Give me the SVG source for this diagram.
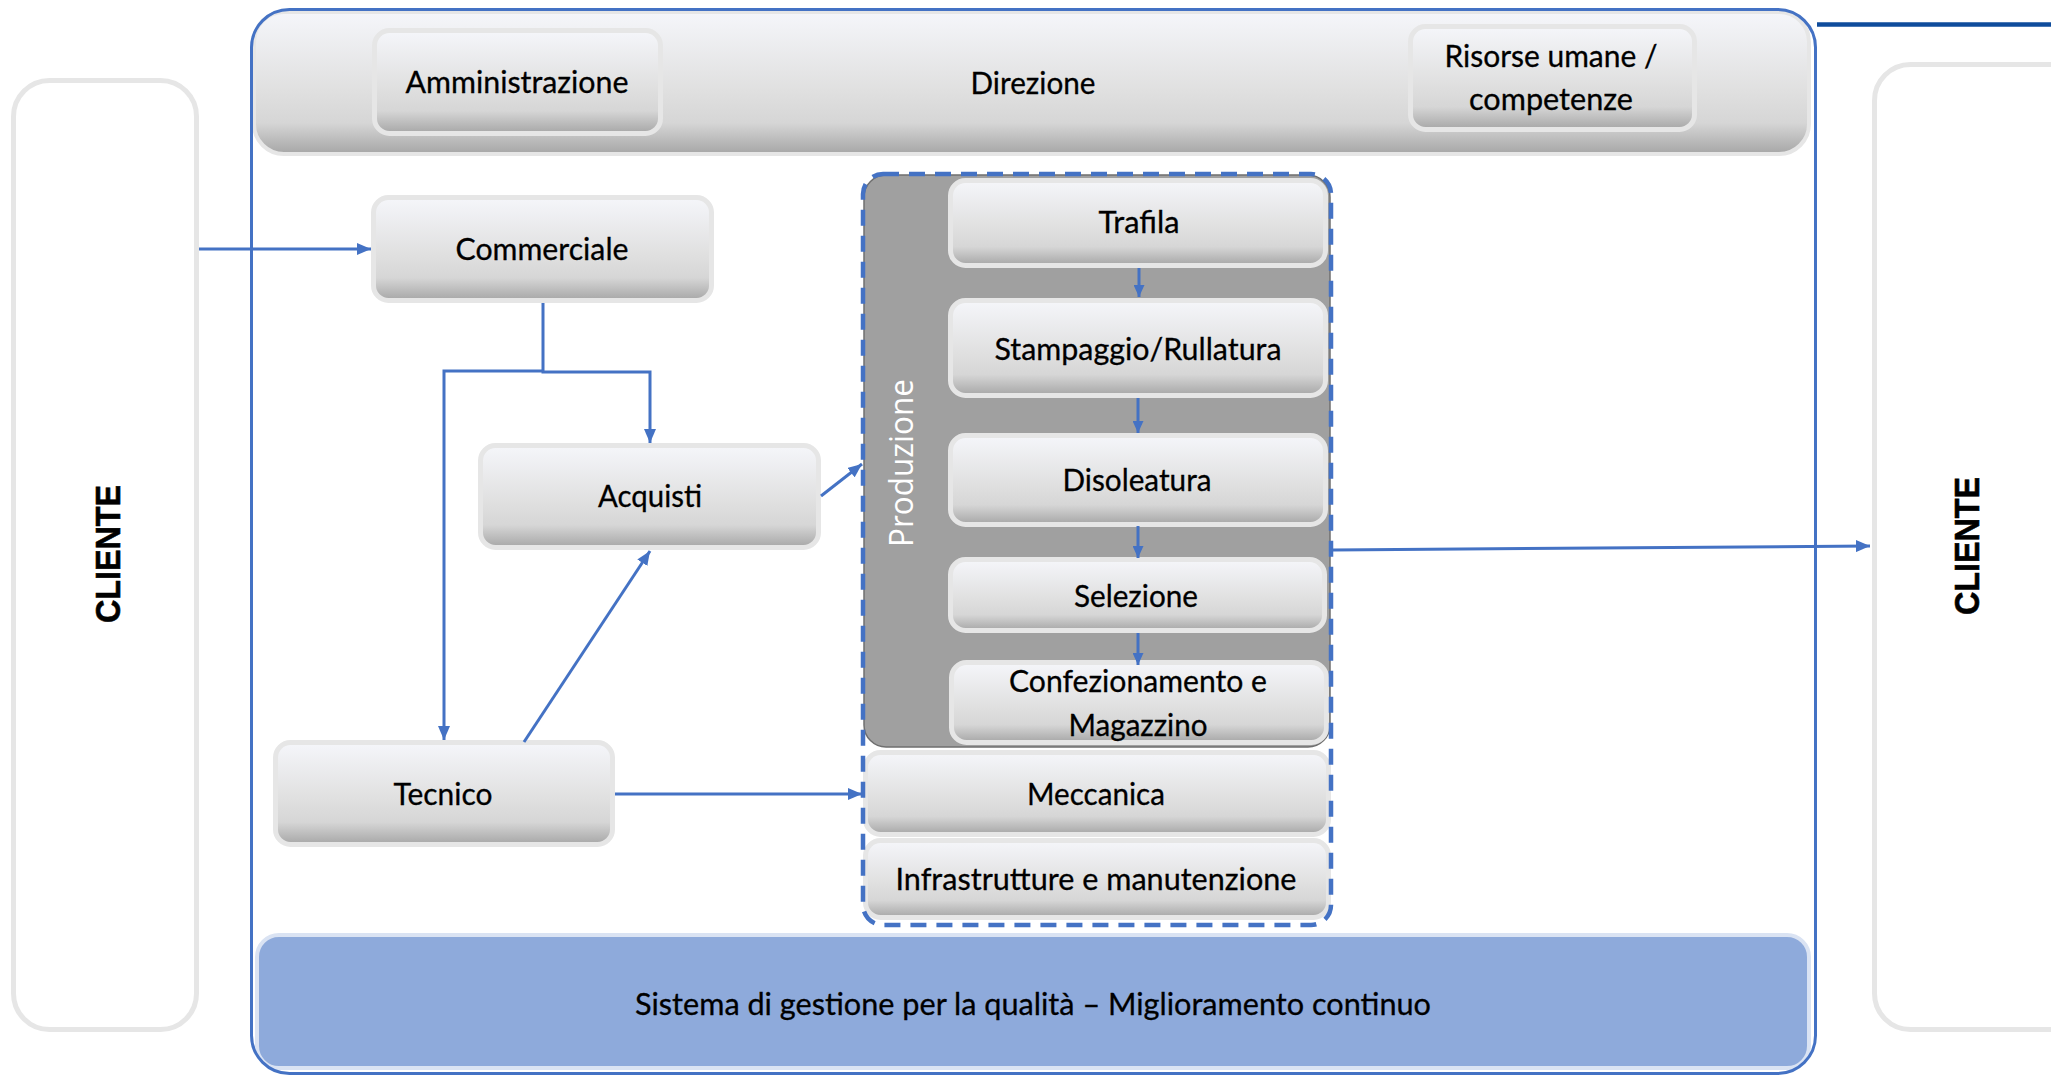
<svg xmlns="http://www.w3.org/2000/svg" width="2051" height="1077" viewBox="0 0 2051 1077">
  <defs>
    <linearGradient id="boxGrad" x1="0" y1="0" x2="0" y2="1">
      <stop offset="0" stop-color="#f5f6fa"/>
      <stop offset="0.55" stop-color="#e0e0e0"/>
      <stop offset="0.78" stop-color="#d6d6d6"/>
      <stop offset="1" stop-color="#a6a6a6"/>
    </linearGradient>
    <marker id="arr" markerUnits="userSpaceOnUse" markerWidth="14" markerHeight="12" refX="14" refY="6" orient="auto">
      <path d="M0,0 L14,6 L0,12 z" fill="#4472c4"/>
    </marker>
    <marker id="arrS" markerUnits="userSpaceOnUse" markerWidth="12" markerHeight="11" refX="12" refY="5.5" orient="auto">
      <path d="M0,0 L12,5.5 L0,11 z" fill="#4472c4"/>
    </marker>
  </defs>
  <style>
    .box { fill: url(#boxGrad); stroke: #e6e6e6; stroke-width: 5; }
    .lbl { font-family: "Lato", "Carlito", "Liberation Sans", sans-serif; font-size: 31px; fill: #000; text-anchor: middle; stroke: #000; stroke-width: 0.3; }
    .conn { fill: none; stroke: #4472c4; stroke-width: 3; }
    .connS { fill: none; stroke: #4472c4; stroke-width: 3; }
    .cliente { font-family: "Liberation Sans", "Arial", sans-serif; font-weight: bold; font-size: 35px; fill: #000; text-anchor: middle; stroke: #000; stroke-width: 0.6; }
  </style>
  <rect width="2051" height="1077" fill="#ffffff"/>

  <!-- Clients -->
  <g id="cliente-sx">
    <rect x="13.5" y="80.5" width="183" height="949" rx="36" fill="#ffffff" stroke="#e6e6e6" stroke-width="5"/>
    <text class="cliente" transform="translate(120,554) rotate(-90)" textLength="138" lengthAdjust="spacingAndGlyphs">CLIENTE</text>
  </g>
  <g id="cliente-dx">
    <rect x="1874.5" y="64.5" width="220" height="965" rx="36" fill="#ffffff" stroke="#e6e6e6" stroke-width="5"/>
    <text class="cliente" transform="translate(1979,546) rotate(-90)" textLength="138" lengthAdjust="spacingAndGlyphs">CLIENTE</text>
  </g>
  <line x1="1817" y1="24.5" x2="2051" y2="24.5" stroke="#0f4c9c" stroke-width="4.5"/>

  <!-- Organisation container -->
  <g id="organizzazione">
    <rect x="251.5" y="9.5" width="1564" height="1064" rx="38" fill="#ffffff"/>
  </g>

  <g id="direzione">
    <rect x="254" y="12" width="1555" height="142" rx="30" fill="url(#boxGrad)" stroke="#e6e6e6" stroke-width="4"/>
    <text class="lbl" x="1033" y="94" textLength="125" lengthAdjust="spacingAndGlyphs">Direzione</text>
  </g>
  <g id="amministrazione">
    <rect class="box" x="374.5" y="30.5" width="286" height="103" rx="15"/>
    <text class="lbl" x="517" y="93" textLength="223" lengthAdjust="spacingAndGlyphs">Amministrazione</text>
  </g>
  <g id="risorse-umane">
    <rect class="box" x="1410.5" y="26.5" width="284" height="103" rx="15"/>
    <text class="lbl" x="1551" y="67" textLength="213" lengthAdjust="spacingAndGlyphs">Risorse umane /</text>
    <text class="lbl" x="1551" y="110" textLength="164" lengthAdjust="spacingAndGlyphs">competenze</text>
  </g>

  <g id="commerciale">
    <rect class="box" x="373.5" y="197.5" width="338" height="103" rx="15"/>
    <text class="lbl" x="542" y="260" textLength="173" lengthAdjust="spacingAndGlyphs">Commerciale</text>
  </g>
  <g id="acquisti">
    <rect class="box" x="480.5" y="445.5" width="338" height="102" rx="15"/>
    <text class="lbl" x="650" y="507" textLength="104" lengthAdjust="spacingAndGlyphs">Acquisti</text>
  </g>
  <g id="tecnico">
    <rect class="box" x="275.5" y="742.5" width="337" height="102" rx="15"/>
    <text class="lbl" x="443" y="805" textLength="99" lengthAdjust="spacingAndGlyphs">Tecnico</text>
  </g>

  <!-- Production -->
  <g id="produzione">
    <rect x="864" y="175" width="466" height="572" rx="22" fill="#a0a0a0" stroke="#6f6f6f" stroke-width="1.5"/>
    <text transform="translate(913,463) rotate(-90)" font-family="'Open Sans', 'Noto Sans', sans-serif" font-size="32" fill="#ffffff" text-anchor="middle" textLength="168" lengthAdjust="spacingAndGlyphs">Produzione</text>
  </g>
  <g id="trafila">
    <rect class="box" x="950.5" y="180.5" width="375" height="85" rx="15"/>
    <text class="lbl" x="1139" y="233" textLength="81" lengthAdjust="spacingAndGlyphs">Trafila</text>
  </g>
  <g id="stampaggio">
    <rect class="box" x="950.5" y="300.5" width="375" height="95" rx="15"/>
    <text class="lbl" x="1138" y="360" textLength="287" lengthAdjust="spacingAndGlyphs">Stampaggio/Rullatura</text>
  </g>
  <g id="disoleatura">
    <rect class="box" x="950.5" y="435.5" width="375" height="89" rx="15"/>
    <text class="lbl" x="1137" y="491" textLength="149" lengthAdjust="spacingAndGlyphs">Disoleatura</text>
  </g>
  <g id="selezione">
    <rect class="box" x="950.5" y="559.5" width="374" height="71" rx="15"/>
    <text class="lbl" x="1136" y="607" textLength="124" lengthAdjust="spacingAndGlyphs">Selezione</text>
  </g>
  <g id="confezionamento">
    <rect class="box" x="951.5" y="662.5" width="375" height="80" rx="15"/>
    <text class="lbl" x="1138" y="692" textLength="258" lengthAdjust="spacingAndGlyphs">Confezionamento e</text>
    <text class="lbl" x="1138" y="736" textLength="139" lengthAdjust="spacingAndGlyphs">Magazzino</text>
  </g>
  <g id="meccanica">
    <rect class="box" x="865.5" y="752.5" width="463" height="82" rx="15"/>
    <text class="lbl" x="1096" y="805" textLength="138" lengthAdjust="spacingAndGlyphs">Meccanica</text>
  </g>
  <g id="infrastrutture">
    <rect class="box" x="865.5" y="840.5" width="463" height="77" rx="15"/>
    <text class="lbl" x="1096" y="890" textLength="401" lengthAdjust="spacingAndGlyphs">Infrastrutture e manutenzione</text>
  </g>
  <g id="area-produzione">
    <rect x="863" y="174" width="468" height="751" rx="20" fill="none" stroke="#4472c4" stroke-width="4.5" stroke-dasharray="16 10"/>
  </g>

  <g id="sistema-qualita">
    <rect x="257" y="935" width="1552" height="133" rx="22" fill="#8eaadb" stroke="#dae3f3" stroke-width="4"/>
    <text class="lbl" x="1033" y="1015" textLength="796" lengthAdjust="spacingAndGlyphs">Sistema di gestione per la qualità – Miglioramento continuo</text>
  </g>

  <!-- container border on top -->
  <rect x="251.5" y="9.5" width="1564" height="1064" rx="38" fill="none" stroke="#4472c4" stroke-width="3"/>

  <!-- Connectors -->
  <g id="connectors">
    <path class="conn" d="M199,249 L371,249" marker-end="url(#arr)"/>
    <path class="conn" d="M543,303 V372 H650 V443" marker-end="url(#arr)"/>
    <path class="conn" d="M543,371 H444 V740" marker-end="url(#arr)"/>
    <path class="conn" d="M524,742 L650,551" marker-end="url(#arr)"/>
    <path class="conn" d="M821,496 L862,464" marker-end="url(#arr)"/>
    <path class="conn" d="M615,794 L862,794" marker-end="url(#arr)"/>
    <path class="conn" d="M1333,550 L1870,546" marker-end="url(#arr)"/>
    <path class="connS" d="M1139,268 V297" marker-end="url(#arrS)"/>
    <path class="connS" d="M1138,398 V433" marker-end="url(#arrS)"/>
    <path class="connS" d="M1138,526 V558" marker-end="url(#arrS)"/>
    <path class="connS" d="M1138,633 V665" marker-end="url(#arrS)"/>
  </g>
</svg>
